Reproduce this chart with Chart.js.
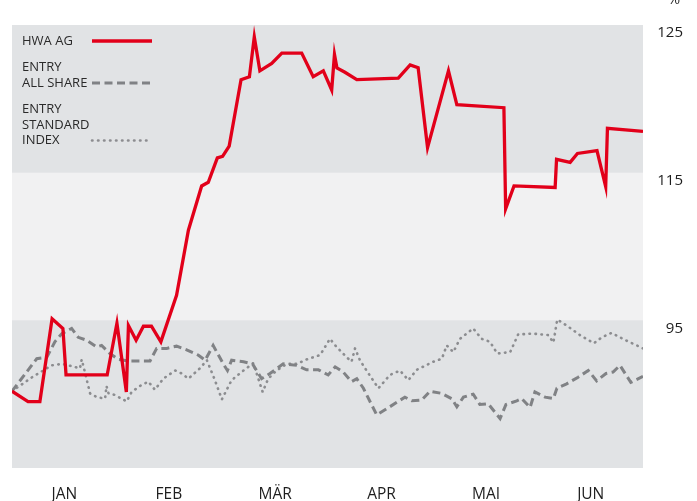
<!DOCTYPE html>
<html><head><meta charset="utf-8">
<script src="https://cdn.jsdelivr.net/npm/chart.js@4"></script>
<style>html,body{margin:0;padding:0;background:#fff;}#wrap{width:697px;height:501px;}</style>
</head><body><div id="wrap"><canvas id="c" width="697" height="501"></canvas></div>
<script>
// ---- data (x = day of half-year, y = index value in %) ----
const months = ['JAN', 'FEB', 'MÄR', 'APR', 'MAI', 'JUN'];
const monthTickDays = [15, 45, 75.5, 106, 136, 166];
const yTickValues = [125, 115, 95];
const unitLabel = '%';

const hwaLabel = ['HWA AG'];
const allShareLabel = ['ENTRY', 'ALL SHARE'];
const standardLabel = ['ENTRY', 'STANDARD', 'INDEX'];

const hwaDays = [0,4.6,8,11.5,14.6,15.5,27.3,30.1,32.8,33.4,35.6,37.7,40,42.7,47.2,50.6,54.4,56.3,58.9,60.4,62.3,65.7,68.1,69.5,71.1,74.5,77.4,83.1,86.4,89.3,91.7,92.5,93.2,95.5,98.9,110.8,114.2,116.5,119.2,125.2,127.6,141.1,141.6,144,155.8,156.2,160.1,162.2,167.8,170.3,170.8,181];
const hwaValues = [85.4,84.0,84.0,95.2,93.9,87.6,87.6,94.6,85.3,94.3,92.3,94.2,94.2,92.1,98.4,107.2,113.2,113.7,116.0,116.1,116.8,121.3,121.5,124.2,121.9,122.4,123.1,123.1,121.5,121.9,120.6,123.0,122.1,121.8,121.3,121.4,122.3,122.1,116.7,121.9,119.6,119.4,110.1,113.2,113.0,115.9,115.7,116.3,116.5,113.1,118.0,117.8];

const allShareDays = [0,7.1,10,12.3,14.3,17.1,19,21.4,24.3,25.7,28.1,30.5,33.4,39.6,41.5,44.4,47.2,50.1,53.4,55.4,57.7,60.6,61.8,63,66.4,69,71.6,74,77.8,81.7,84.5,87.9,90.7,92.7,95,97.4,98.9,100.8,104.6,108.4,112.7,114.7,117.5,119.9,123.3,126.1,127.6,129.5,132.3,134.2,136.6,140,141.7,144.8,146.2,148.6,150,152.9,155.3,156.3,159.1,162.4,165.3,167.7,170.4,172.4,174.4,177.5,181];
const allShareValues = [85.4,89.8,90.0,92.1,93.2,93.9,92.7,92.3,91.4,91.6,90.5,89.7,89.5,89.5,91.2,91.2,91.5,91.0,90.3,89.6,91.6,89.1,88.2,89.6,89.4,89.1,87.1,87.8,89.1,88.9,88.3,88.3,87.6,88.7,88.0,86.7,87.1,85.8,82.2,83.3,84.6,84.1,84.2,85.4,85.1,84.4,83.3,84.6,85.0,83.6,83.7,81.7,83.6,84.1,84.4,83.2,85.3,84.6,84.4,85.8,86.4,87.3,88.2,86.8,87.8,88.0,88.9,86.6,87.4];

const standardDays = [0,6.1,11.4,14.3,17.1,19.5,20,20.9,22.4,24.3,26.7,27.1,27.7,29.5,32.9,34.3,36.7,39.1,41,43.4,46.8,48.7,50.6,53.9,55.9,58.2,60.2,63,66.4,69.2,71.9,73.5,75.9,78.8,81.7,84.5,88.4,91.2,93.1,96,97.4,98.4,99.8,101.7,105.1,108.4,111.3,113.7,116.1,120.9,123.3,124.7,126.6,128.5,132.3,134.7,137.1,139.2,142.9,145.2,149.5,153.8,155.3,156.4,159.1,162.9,166.9,169.2,172,175.6,181];
const standardValues = [85.4,87.4,88.9,89.1,88.8,88.5,89.7,88.0,85.1,84.6,84.4,86.1,85.1,84.9,84.0,85.3,86.1,86.7,85.6,87.1,88.2,87.8,87.1,88.5,89.6,86.9,84.3,86.9,88.2,89.2,85.3,87.1,88.2,89.1,89.1,89.7,90.3,92.5,91.4,90.0,89.4,91.2,89.6,88.2,85.8,87.6,88.2,86.9,88.3,89.4,89.8,91.6,90.7,92.5,93.9,92.5,92.1,90.5,90.7,93.1,93.2,93.0,92.0,95.1,94.3,93.0,91.9,92.7,93.3,92.4,91.2];

// ---- piecewise linear value axis (as in the original graphic) ----
class BrokenLinearScale extends Chart.LinearScale {
  _frac(v) {
    const b = this.options.breakValue, bf = this.options.breakFraction;
    if (v <= b) return (v - this.min) / (b - this.min) * bf;
    return bf + (v - b) / (this.max - b) * (1 - bf);
  }
  getPixelForValue(v) { return this.bottom - this._frac(v) * (this.bottom - this.top); }
  getValueForPixel(p) {
    const b = this.options.breakValue, bf = this.options.breakFraction;
    const f = (this.bottom - p) / (this.bottom - this.top);
    if (f <= bf) return this.min + f / bf * (b - this.min);
    return b + (f - bf) / (1 - bf) * (this.max - b);
  }
}
BrokenLinearScale.id = 'brokenLinear';
BrokenLinearScale.defaults = Chart.LinearScale.defaults;
Chart.register(BrokenLinearScale);

const FONT = '"Open Sans", "DejaVu Sans", sans-serif';
const toPts = (xs, ys) => xs.map((x, i) => ({x: x, y: ys[i]}));

const bandsPlugin = {
  id: 'bands',
  beforeDatasetsDraw(chart) {
    const {ctx, chartArea: a, scales: {y}} = chart;
    ctx.save();
    ctx.fillStyle = '#e1e3e5';
    ctx.fillRect(a.left, a.top, a.right - a.left, a.bottom - a.top);
    const y1 = y.getPixelForValue(yTickValues[1]);
    const y2 = y.getPixelForValue(yTickValues[2]);
    ctx.fillStyle = '#f1f1f2';
    ctx.fillRect(a.left, y1, a.right - a.left, y2 - y1);
    ctx.restore();
  }
};

const legendPlugin = {
  id: 'innerLegend',
  afterDatasetsDraw(chart) {
    const {ctx, chartArea: a} = chart;
    ctx.save();
    ctx.font = '13px ' + FONT;
    ctx.textBaseline = 'middle';
    ctx.textAlign = 'left';
    let yy = a.top + 16;
    chart.data.datasets.forEach(ds => {
      const lines = ds.legendLines;
      lines.forEach((t, i) => {
        ctx.fillStyle = '#2a2a2a';
        ctx.fillText(t, a.left + 10, yy);
        if (i === lines.length - 1) {
          ctx.save();
          ctx.strokeStyle = ds.borderColor;
          ctx.lineWidth = ds.borderWidth;
          ctx.setLineDash(ds.borderDash || []);
          ctx.lineCap = ds.borderCapStyle || 'butt';
          ctx.beginPath();
          ctx.moveTo(a.left + 80, yy);
          ctx.lineTo(a.left + 140, yy);
          ctx.stroke();
          ctx.restore();
        }
        if (i < lines.length - 1) yy += 15.5;
      });
      yy += 26.5;
    });
    ctx.fillStyle = '#2a2a2a';
    ctx.font = '15px ' + FONT;
    ctx.textAlign = 'center';
    ctx.textBaseline = 'alphabetic';
    ctx.fillText(unitLabel, 674, 4);
    ctx.restore();
  }
};

new Chart(document.getElementById('c'), {
  type: 'line',
  data: {
    datasets: [
      {label: hwaLabel.join(' '), legendLines: hwaLabel, data: toPts(hwaDays, hwaValues),
       borderColor: '#e2001a', borderWidth: 3.3, borderJoinStyle: 'miter', pointRadius: 0, tension: 0},
      {label: allShareLabel.join(' '), legendLines: allShareLabel, data: toPts(allShareDays, allShareValues),
       borderColor: '#808285', borderWidth: 3, borderDash: [8, 4.5], borderJoinStyle: 'miter', pointRadius: 0, tension: 0},
      {label: standardLabel.join(' '), legendLines: standardLabel, data: toPts(standardDays, standardValues),
       borderColor: '#8c8d90', borderWidth: 2.6, borderDash: [0.5, 5.5], borderCapStyle: 'round', pointRadius: 0, tension: 0}
    ]
  },
  options: {
    responsive: false,
    animation: false,
    devicePixelRatio: 1,
    layout: {padding: {left: 12, top: 25, right: 14, bottom: 0}},
    plugins: {legend: {display: false}, tooltip: {enabled: false}, title: {display: false}},
    scales: {
      x: {
        type: 'linear', min: 0, max: 181,
        afterBuildTicks: s => { s.ticks = monthTickDays.map(v => ({value: v})); },
        afterFit: s => { s.height = 33; },
        grid: {display: false, drawTicks: false}, border: {display: false},
        ticks: {autoSkip: false, maxRotation: 0, padding: 17, color: '#1e1e1e',
                font: {family: FONT, size: 15.5}, callback: (v, i) => months[i]}
      },
      y: {
        type: 'brokenLinear', position: 'right', min: 75, max: 125,
        breakValue: 115, breakFraction: 2 / 3,
        afterBuildTicks: s => { s.ticks = yTickValues.map(v => ({value: v})); },
        afterFit: s => { s.width = 40; },
        grid: {display: false, drawTicks: false}, border: {display: false},
        ticks: {autoSkip: false, crossAlign: 'far', padding: 10, labelOffset: 8, color: '#1e1e1e',
                font: {family: FONT, size: 15}, callback: v => String(v)}
      }
    }
  },
  plugins: [bandsPlugin, legendPlugin]
});
</script></body></html>
